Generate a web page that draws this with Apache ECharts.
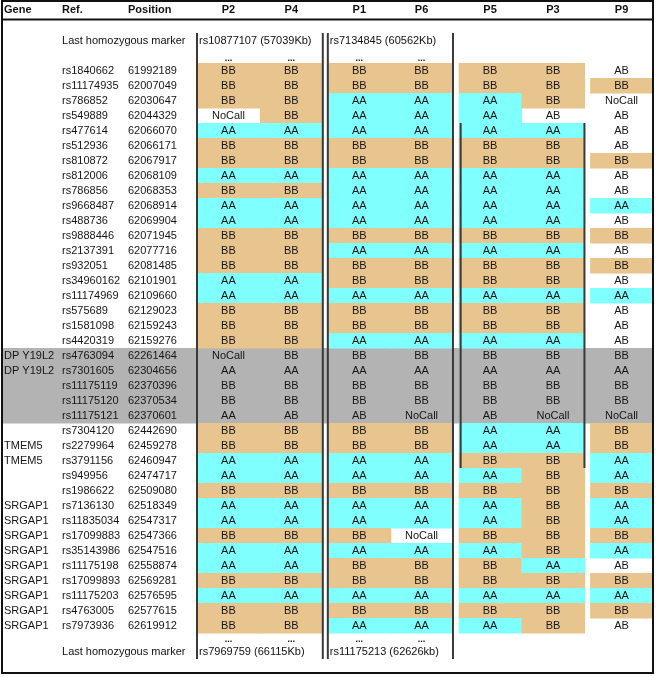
<!DOCTYPE html>
<html><head><meta charset="utf-8">
<script src="https://cdn.jsdelivr.net/npm/echarts@6/dist/echarts.min.js"></script>
<style>html,body{margin:0;padding:0;background:#fff}#c{width:656px;height:677px}</style>
</head><body><div id="c"></div>
<script>
// ---------- data ----------
const samples = ['P2','P4','P1','P6','P5','P3','P9'];
const genes = ['','','','','','','','','','','','','','','','','','','',
  'DP Y19L2','DP Y19L2','','','','','TMEM5','TMEM5','','',
  'SRGAP1','SRGAP1','SRGAP1','SRGAP1','SRGAP1','SRGAP1','SRGAP1','SRGAP1','SRGAP1'];
const refs = ['rs1840662','rs11174935','rs786852','rs549889','rs477614','rs512936','rs810872','rs812006',
  'rs786856','rs9668487','rs488736','rs9888446','rs2137391','rs932051','rs34960162','rs11174969','rs575689',
  'rs1581098','rs4420319','rs4763094','rs7301605','rs11175119','rs11175120','rs11175121','rs7304120',
  'rs2279964','rs3791156','rs949956','rs1986622','rs7136130','rs11835034','rs17099883','rs35143986',
  'rs11175198','rs17099893','rs11175203','rs4763005','rs7973936'];
const positions = ['61992189','62007049','62030647','62044329','62066070','62066171','62067917','62068109',
  '62068353','62068914','62069904','62071945','62077716','62081485','62101901','62109660','62129023',
  '62159243','62159276','62261464','62304656','62370396','62370534','62370601','62442690','62459278',
  '62460947','62474717','62509080','62518349','62547317','62547366','62547516','62558874','62569281',
  '62576595','62577615','62619912'];
const P2 = ['BB','BB','BB','NoCall','AA','BB','BB','AA','BB','AA','AA','BB','BB','BB','AA','AA','BB','BB','BB','NoCall',
  'AA','BB','BB','AA','BB','BB','AA','AA','BB','AA','AA','BB','AA','AA','BB','AA','BB','BB'];
const P4 = ['BB','BB','BB','BB','AA','BB','BB','AA','BB','AA','AA','BB','BB','BB','AA','AA','BB','BB','BB','BB',
  'AA','BB','BB','AB','BB','BB','AA','AA','BB','AA','AA','BB','AA','AA','BB','AA','BB','BB'];
const P1 = ['BB','BB','AA','AA','AA','BB','BB','AA','AA','AA','AA','BB','AA','BB','BB','AA','BB','BB','AA','BB',
  'AA','BB','BB','AB','BB','BB','AA','AA','BB','AA','AA','BB','AA','BB','BB','AA','BB','AA'];
const P6 = ['BB','BB','AA','AA','AA','BB','BB','AA','AA','AA','AA','BB','AA','BB','BB','AA','BB','BB','AA','BB',
  'AA','BB','BB','NoCall','BB','BB','AA','AA','BB','AA','AA','NoCall','AA','BB','BB','AA','BB','AA'];
const P5 = ['BB','BB','AA','AA','AA','BB','BB','AA','AA','AA','AA','BB','AA','BB','BB','AA','BB','BB','AA','BB',
  'AA','BB','BB','AB','AA','AA','BB','AA','BB','AA','AA','BB','AA','BB','BB','AA','BB','AA'];
const P3 = ['BB','BB','BB','AB','AA','BB','BB','AA','AA','AA','AA','BB','AA','BB','BB','AA','BB','BB','AA','BB',
  'AA','BB','BB','NoCall','AA','AA','BB','BB','BB','BB','BB','BB','BB','AA','BB','AA','BB','BB'];
const P9 = ['AB','BB','NoCall','AB','AB','AB','BB','AB','AB','AA','AB','BB','AB','BB','AB','AA','AB','AB','AB','BB',
  'AA','BB','BB','NoCall','BB','BB','AA','AA','BB','AA','AA','BB','AA','AB','BB','AA','BB','AB'];
const shadedRefs = ['rs4763094','rs7301605','rs11175119','rs11175120','rs11175121'];
const headerCols = ['Gene','Ref.','Position'];
const topMarkerLabel = 'Last homozygous marker';
const topMarkers = ['rs10877107 (57039Kb)','rs7134845 (60562Kb)'];
const bottomMarkers = ['rs7969759 (66115Kb)','rs11175213 (62626kb)'];

// ---------- layout / style ----------
const FONT = '"Liberation Sans", Arial, sans-serif';
const calls = [P2,P4,P1,P6,P5,P3,P9];
const colPos = [0, 1, 2.08, 3.07, 4.16, 5.16, 6.25];   // column centers in column-width units
const textCols = [-3.568, -2.646, -1.597];             // left edges of Gene / Ref / Position
const fillFor = {BB:'#E8C48E', AA:'#80FFFF'};
const SHADE = '#B3B3B3';

const chart = echarts.init(document.getElementById('c'));

const cellData = [];
samples.forEach((s, j) => calls[j].forEach((g, i) => cellData.push([colPos[j], i, j])));
const rowData = refs.map((r, i) => [0, i]);
const shadeData = refs.map((r, i) => [0, i]).filter(d => shadedRefs.includes(refs[d[1]]));

const option = {
  animation: false,
  grid: {left: 197, right: 3, top: 63, height: 570},
  xAxis: {type: 'value', min: -0.5, max: 6.75, show: false},
  yAxis: {type: 'category', data: refs, inverse: true, show: false},
  series: [
    {
      type: 'custom', z: 1, data: shadeData,
      renderItem(params, api) {
        const i = api.value(1);
        const a = api.coord([-3.585, i]);
        const b = api.coord([6.75, i]);
        const h = api.size([0, 1])[1];
        return {type: 'rect', shape: {x: a[0], y: a[1] - h/2, width: b[0] - a[0], height: h + 0.5},
                style: {fill: SHADE}};
      }
    },
    {
      type: 'custom', z: 2, data: cellData,
      renderItem(params, api) {
        const x = api.value(0), i = api.value(1), j = api.value(2);
        const g = calls[j][i];
        const a = api.coord([x - 0.5, i]);
        const b = api.coord([x + 0.5, i]);
        const h = api.size([0, 1])[1];
        const shaded = shadedRefs.includes(refs[i]);
        const children = [];
        if (!shaded && fillFor[g]) {
          children.push({type: 'rect', shape: {x: a[0], y: a[1] - h/2, width: b[0] - a[0] + 0.6, height: h + 0.6},
                         style: {fill: fillFor[g]}});
        }
        children.push({type: 'text', style: {text: g, x: (a[0] + b[0]) / 2, y: a[1] + 0.5, align: 'center',
                       verticalAlign: 'middle', font: '11px ' + FONT, fill: '#161616'}});
        return {type: 'group', children};
      }
    },
    {
      type: 'custom', z: 3, data: rowData,
      renderItem(params, api) {
        const i = api.value(1);
        const vals = [genes[i], refs[i], positions[i]];
        return {type: 'group', children: vals.map((t, k) => {
          const p = api.coord([textCols[k], i]);
          return {type: 'text', style: {text: t, x: p[0], y: p[1] + 0.5, align: 'left', verticalAlign: 'middle',
                  font: '11px ' + FONT, fill: '#161616'}};
        })};
      }
    }
  ]
};
chart.setOption(option);

// ---------- header, marker annotations, frame ----------
const px = v => chart.convertToPixel({xAxisIndex: 0}, v);
const py = i => chart.convertToPixel({yAxisIndex: 0}, i);
const g = [];
const txt = (t, x, y, align, bold, size) => g.push({type: 'text', silent: true, z: 10,
  style: {text: t, x, y, align, verticalAlign: 'middle', font: (bold ? 'bold ' : '') + (size || 11) + 'px ' + FONT, fill: '#111'}});
const line = (x1, y1, x2, y2, w, c) => g.push({type: 'line', silent: true, z: 11,
  shape: {x1, y1, x2, y2}, style: {stroke: c || '#3a3a3a', lineWidth: w || 2}});

headerCols.forEach((t, k) => txt(t, px(textCols[k]), 10, 'left', true));
samples.forEach((s, j) => txt(s, px(colPos[j]), 10, 'center', true));

const topY = 41, botY = 652;
txt(topMarkerLabel, px(textCols[1]), topY, 'left');
txt(topMarkerLabel, px(textCols[1]), botY, 'left');
txt(topMarkers[0], px(colPos[0] - 0.5) + 2, topY, 'left');
txt(topMarkers[1], px(colPos[2] - 0.5) + 2, topY, 'left');
txt(bottomMarkers[0], px(colPos[0] - 0.5) + 2, botY, 'left');
txt(bottomMarkers[1], px(colPos[2] - 0.5) + 2, botY, 'left');
[0, 1, 2, 3].forEach(j => {
  txt('...', px(colPos[j]), 58.5, 'center', true, 9);
  txt('...', px(colPos[j]), 639.5, 'center', true, 9);
});

// block separators
const yTop = 33, yBot = 659;
line(px(colPos[0] - 0.5), yTop, px(colPos[0] - 0.5), yBot);
line(px(colPos[1] + 0.5), yTop, px(colPos[1] + 0.5), yBot);
line(px(colPos[2] - 0.5), yTop, px(colPos[2] - 0.5), yBot);
line(px(colPos[3] + 0.5), yTop, px(colPos[3] + 0.5), yBot);
const h = 15;
line(px(colPos[4] - 0.5) + 2, py(4) - h/2, px(colPos[4] - 0.5) + 2, py(26) + h/2);
line(px(colPos[5] + 0.5), py(4) - h/2, px(colPos[5] + 0.5), py(26) + h/2);

// outer frame and header rule
g.push({type: 'rect', silent: true, z: 12, shape: {x: 2, y: 1, width: 651, height: 672},
        style: {fill: null, stroke: '#111', lineWidth: 2}});
line(2, 19.5, 653, 19.5, 2, '#111');

chart.setOption({graphic: g});
</script></body></html>
